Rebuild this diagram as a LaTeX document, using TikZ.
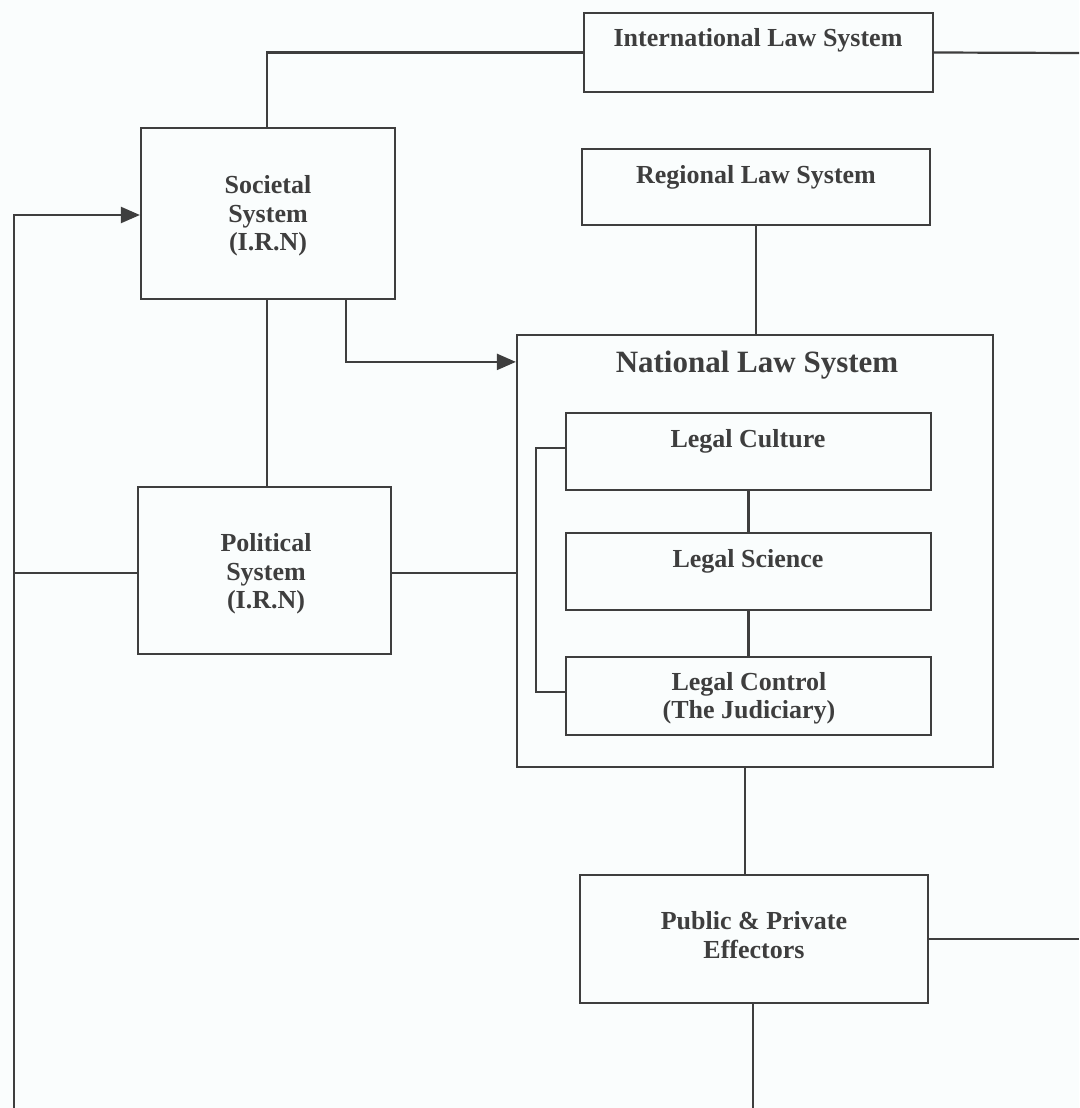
\documentclass[tikz,border=0pt]{standalone}
\usepackage{fontspec}
\setmainfont{Liberation Serif}
\usetikzlibrary{arrows.meta,calc}
\definecolor{ink}{HTML}{3E3E3E}
\definecolor{paper}{HTML}{FAFDFD}
\begin{document}
\begin{tikzpicture}[x=1pt,y=-1pt,
  box/.style={draw=ink,line width=2.2pt,inner sep=0pt,rectangle},
  lbl/.style={text=ink,font=\fontsize{26}{28.5}\selectfont\bfseries,align=center,inner sep=0pt},
  conn/.style={draw=ink,line width=2.2pt},
  arr/.style={conn,-{Triangle[length=19pt,width=16pt]}}]
\fill[paper] (0,0) rectangle (1079,1108);
\useasboundingbox (0,0) rectangle (1079,1108);
% boxes
\node[box,minimum width=349pt,minimum height=79pt] (intl) at (758.5,52.5) {};
\node[box,minimum width=348pt,minimum height=76pt] (reg) at (756,187) {};
\node[box,minimum width=254pt,minimum height=171pt] (soc) at (268,213.5) {};
\node[box,minimum width=253pt,minimum height=167pt] (pol) at (264.5,570.5) {};
\node[box,minimum width=476pt,minimum height=432pt] (nat) at (755,551) {};
\node[box,minimum width=365pt,minimum height=77pt] (cult) at (748.5,451.5) {};
\node[box,minimum width=365pt,minimum height=77pt] (sci) at (748.5,571.5) {};
\node[box,minimum width=365pt,minimum height=78pt] (ctrl) at (748.5,696) {};
\node[box,minimum width=348pt,minimum height=128pt] (pub) at (754,939) {};
% texts
\node[lbl,anchor=base] (tintl) at (758,47) {International Law System};
\node[lbl,anchor=base] (treg) at (756,183) {Regional Law System};
\node[lbl] (tsoc) at (268,216) {Societal\\System\\(I.R.N)};
\node[lbl] (tpol) at (266,574) {Political\\System\\(I.R.N)};
\node[lbl,anchor=base,font=\fontsize{31}{34}\selectfont\bfseries] (tnat) at (757,372) {National Law System};
\node[lbl,anchor=base] (tcult) at (748,447) {Legal Culture};
\node[lbl,anchor=base] (tsci) at (748,567) {Legal Science};
\node[lbl] (tctrl) at (749,698.5) {Legal Control\\(The Judiciary)};
\node[lbl] (tpub) at (754,935) {Public \& Private\\Effectors};
% free ends
\coordinate (rTop) at (1079,53);
\coordinate (rPub) at (1079,939);
\coordinate (bPub) at (753,1108);
\coordinate (bLeft) at (14,1108);
% connectors
\draw[conn] ([xshift=-1pt]soc.north) |- (intl.west);
\draw[conn] (intl.east) -- (rTop);
\draw[conn] (reg.south) -- (reg.south |- nat.north);
\draw[conn] ([xshift=-1pt]soc.south) -- ([xshift=-1pt]soc.south |- pol.north);
\draw[arr] ([xshift=78pt]soc.south) |- ([yshift=-28pt]nat.north west);
\draw[arr] (bLeft) |- ([yshift=-1.5pt]soc.west);
\draw[conn] ([yshift=-2.5pt]pol.west) -- ([yshift=-2.5pt]pol.west -| bLeft);
\draw[conn] ([yshift=-2.5pt]pol.east) -- ([yshift=-2.5pt]pol.east -| nat.west);
\draw[conn] ([yshift=3.5pt]cult.west) -- ++(-29pt,0) |- ([yshift=4pt]ctrl.west);
\draw[conn] (cult.south) -- (sci.north);
\draw[conn] (sci.south) -- (ctrl.north);
\draw[conn] ([xshift=-10pt]nat.south) -- ([xshift=-10pt]nat.south |- pub.north);
\draw[conn] (pub.east) -- (rPub);
\draw[conn] (pub.south -| bPub) -- (bPub);
\end{tikzpicture}
\end{document}
